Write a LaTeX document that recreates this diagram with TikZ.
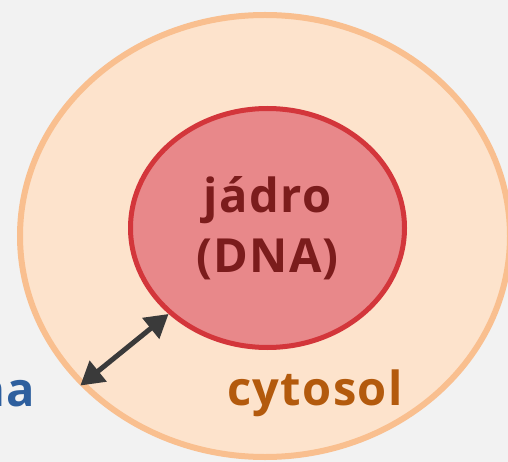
\documentclass[tikz,border=0pt]{standalone}
\usepackage{fontspec}
\setmainfont{Open Sans}[LetterSpace=3]
\usetikzlibrary{positioning, arrows.meta, shapes.geometric}

\definecolor{bgGray}{HTML}{F2F2F2}
\definecolor{cellFill}{HTML}{FDE3CC}
\definecolor{cellEdge}{HTML}{F9BF8F}
\definecolor{nucFill}{HTML}{E8888A}
\definecolor{nucEdge}{HTML}{D3363B}
\definecolor{nucText}{HTML}{7B1C1C}
\definecolor{cytoText}{HTML}{B35A0D}
\definecolor{membText}{HTML}{2E5F9E}
\definecolor{arrowGray}{HTML}{3A3A3A}

\begin{document}
\begin{tikzpicture}[x=1pt, y=-1pt,
    cellbody/.style={ellipse, draw=cellEdge, fill=cellFill, line width=6pt,
        minimum width=490pt, minimum height=442pt, inner sep=0pt},
    nucleusbody/.style={ellipse, draw=nucEdge, fill=nucFill, line width=5pt,
        minimum width=274pt, minimum height=239pt, inner sep=0pt,
        align=center, text=nucText, font=\fontsize{47}{60}\selectfont\bfseries},
    txtlabel/.style={font=\fontsize{47}{60}\selectfont\bfseries, inner sep=0pt},
    arrow/.style={{Triangle[length=23pt, width=26pt]}-{Triangle[length=23pt, width=26pt]},
        line width=5pt, draw=arrowGray}
]

    % Background and frame
    \fill[bgGray] (0, 0) rectangle (508, 462);
    \useasboundingbox (0, 0) rectangle (508, 462);

    % Cell and nucleus
    \node[cellbody] (cell) at (265, 236) {};
    \node[nucleusbody] (nucleus) at (267.5, 228) {jádro\\(DNA)};

    % Labels
    \node[txtlabel, text=cytoText, anchor=base] (cytosol) at (315, 405) {cytosol};
    \node[txtlabel, text=membText, anchor=base east] (membrane) at (35, 406) {na};

    % Exchange through the envelope
    \draw[arrow] (cell.219) -- (nucleus.221);

\end{tikzpicture}
\end{document}
